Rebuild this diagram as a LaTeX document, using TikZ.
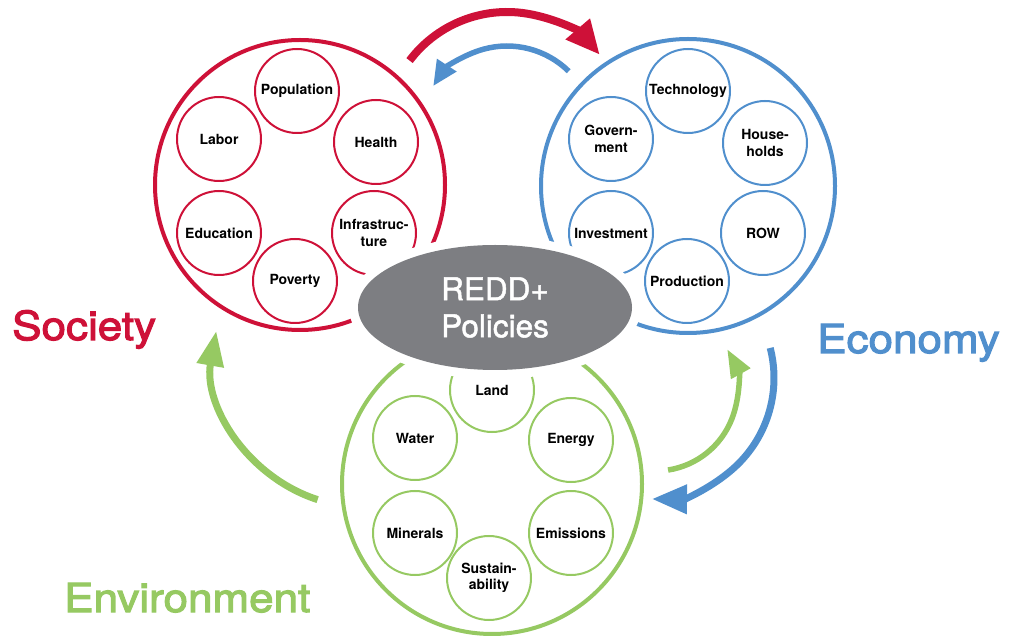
\documentclass[tikz,border=0pt]{standalone}
\usepackage{fontspec}
\usetikzlibrary{shapes.geometric,arrows.meta}
\newfontfamily\hv{TeX Gyre Heros}
\newfontfamily\hvwide[FakeStretch=1.1]{TeX Gyre Heros}
\newcommand{\medtext}[2]{\special{pdf:literal direct q 2 Tr #1 w}#2\special{pdf:literal direct Q}}
\definecolor{socred}{RGB}{206,17,56}
\definecolor{ecoblue}{RGB}{80,143,205}
\definecolor{envgreen}{RGB}{150,201,98}
\definecolor{polgray}{RGB}{125,126,130}
\begin{document}
\begin{tikzpicture}[x=1pt,y=1pt,
  bigring/.style={circle, line width=4pt, inner sep=0pt},
  item/.style={circle, draw=#1, line width=2pt, minimum size=84pt, inner sep=0pt,
    align=center, text=black, font=\hv\bfseries\fontsize{14}{16.5}\selectfont},
  biglabel/.style={anchor=base west, inner sep=0pt, text=#1,
    font=\hvwide\fontsize{40}{40}\selectfont},
  flow/.style={draw=#1, line cap=butt}
]
\useasboundingbox (0,0) rectangle (1012,635);

% big rings
\node[bigring, draw=socred, minimum size=290pt] (soc) at (300,450) {};
\node[bigring, draw=ecoblue, minimum size=294pt] (eco) at (688,449) {};
\node[bigring, draw=envgreen, minimum size=300pt] (env) at (492,151) {};

% society items
\node[item=socred] (pop) at (297,544) {Population};
\node[item=socred] (hea) at (376,493) {Health};
\node[item=socred] (inf) at (374,402) {Infrastruc-\\ture};
\node[item=socred] (pov) at (295,354) {Poverty};
\node[item=socred] (edu) at (219,402) {Education};
\node[item=socred] (lab) at (219,496) {Labor};

% economy items
\node[item=ecoblue] (tec) at (688,544) {Technology};
\node[item=ecoblue] (hou) at (765,492) {House-\\holds};
\node[item=ecoblue] (row) at (763,402) {ROW};
\node[item=ecoblue] (pro) at (687,354) {Production};
\node[item=ecoblue] (inv) at (611,402) {Investment};
\node[item=ecoblue] (gov) at (611,496) {Govern-\\ment};

% environment items
\node[item=envgreen] (lan) at (492,245) {Land};
\node[item=envgreen] (wat) at (415,197) {Water};
\node[item=envgreen] (ene) at (571,195) {Energy};
\node[item=envgreen] (min) at (415,102) {Minerals};
\node[item=envgreen] (emi) at (571,102) {Emissions};
\node[item=envgreen] (sus) at (489,57) {Sustain-\\ability};

% central policies ellipse
\node[ellipse, minimum width=274pt, minimum height=125pt, inner sep=0pt,
  fill=polgray, preaction={draw=white, fill=white, line width=18pt},
  text=white, align=center, font=\hv\fontsize{31.5}{37}\selectfont]
  (pol) at (495,327.5) {\medtext{0.5}{REDD+}\\\medtext{0.5}{Policies}};

% flow arrows
\coordinate (topc) at (507,501);
\coordinate (rightc) at (653,257);
\coordinate (rightc2) at (655.5,246);
\coordinate (leftc) at (364,278);
\draw[flow=socred, line width=8pt, -{Triangle[length=34pt,width=30pt]}]
  (topc) ++(143:122) arc[start angle=143, end angle=40.5, radius=122];
\draw[flow=ecoblue, line width=5.5pt, -{Triangle[length=25pt,width=22pt]}]
  (topc) ++(45.5:88) arc[start angle=45.5, end angle=147, radius=88];
\draw[flow=ecoblue, line width=7pt, -{Triangle[length=35pt,width=28pt]}]
  (rightc) ++(14.4:121) arc[start angle=14.4, end angle=-90.5, radius=121];
\draw[flow=envgreen, line width=5.5pt, -{Triangle[length=28pt,width=21pt]}]
  (rightc2) ++(-81.2:82) arc[start angle=-81.2, end angle=29, radius=82];
\draw[flow=envgreen, line width=7pt, -{Triangle[length=35pt,width=26pt]}]
  (leftc) ++(252:150) arc[start angle=252, end angle=170, radius=150];

% labels
\node[biglabel=socred] (soclabel) at (12,295) {\medtext{1.1}{Society}};
\node[biglabel=ecoblue] (ecolabel) at (817,282) {\medtext{1.1}{Economy}};
\node[biglabel=envgreen] (envlabel) at (64,23) {\medtext{1.1}{Environment}};
\end{tikzpicture}
\end{document}
